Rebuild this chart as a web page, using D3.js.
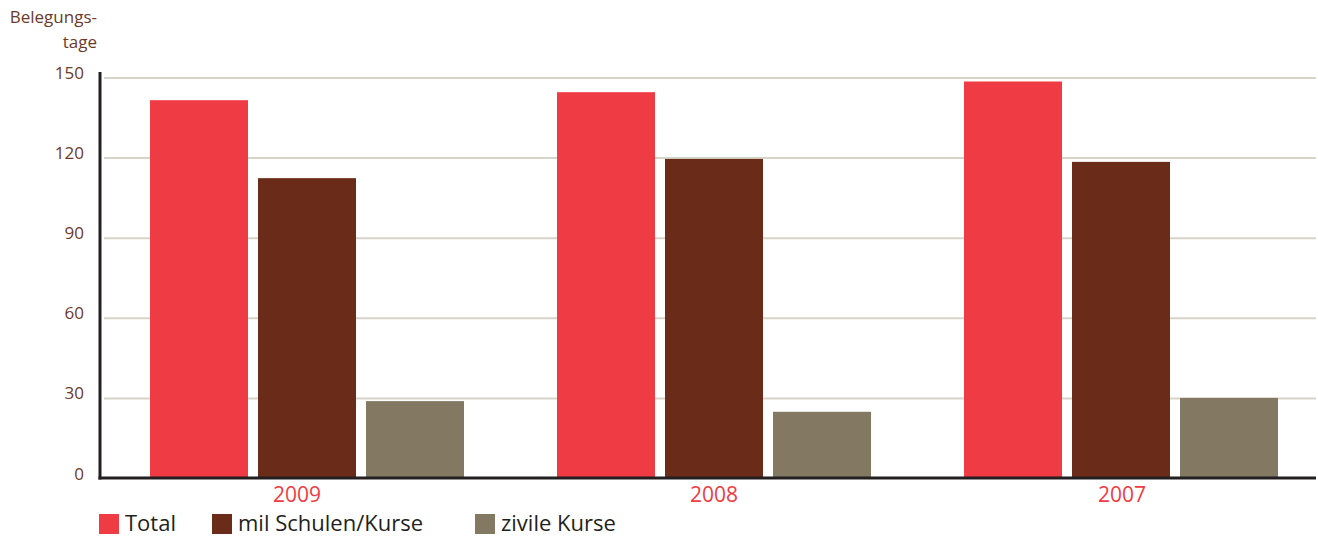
<!DOCTYPE html>
<html>
  <head>
    <script type="text/javascript" src="https://cdn.jsdelivr.net/npm/d3@7"></script>
    <style type="text/css">

html, body {
  margin: 0;
  background: #fff;
}

svg {
  display: block;
  font-family: "Open Sans", "Noto Sans", sans-serif;
}

    </style>
  </head>
  <body>
    <div id="chart"></div>
    <script type="text/javascript">

var years = ["2009", "2008", "2007"];
var series = ["Total", "mil Schulen/Kurse", "zivile Kurse"];
var total = [141.5, 144.5, 148.5];
var mil = [112.3, 119.5, 118.4];
var zivil = [28.8, 24.8, 30];
var yTicks = [0, 30, 60, 90, 120, 150];
var colors = ["#ef3b43", "#6b2b19", "#837963"];

var values = [total, mil, zivil];

var svg = d3.select("#chart").append("svg")
    .attr("width", 1318)
    .attr("height", 537);

var y = d3.scaleLinear().domain([0, 150]).range([478, 77.5]);

// groups of three bars
var x0 = d3.scaleBand().domain(years).range([150, 1278]).paddingInner(93 / 407).paddingOuter(0);
var x1 = d3.scaleBand().domain(series).range([0, x0.bandwidth()]).paddingInner(10 / 108).paddingOuter(0);

// grid lines
svg.append("g")
    .attr("transform", "translate(1316,0)")
    .call(d3.axisLeft(y).tickValues(yTicks.slice(1)).tickSize(1212).tickFormat(""))
    .call(function(g) {
      g.select(".domain").remove();
      g.selectAll(".tick line").attr("stroke", "#d6d3c8").attr("stroke-width", 2);
    });

// bars
var group = svg.append("g").selectAll("g")
    .data(years)
  .enter().append("g")
    .attr("transform", function(d) { return "translate(" + x0(d) + ",0)"; });

group.selectAll("rect")
    .data(function(d, i) { return series.map(function(s, j) { return {s: s, v: values[j][i], j: j}; }); })
  .enter().append("rect")
    .attr("x", function(d) { return x1(d.s); })
    .attr("width", x1.bandwidth())
    .attr("y", function(d) { return y(d.v); })
    .attr("height", function(d) { return y(0) - y(d.v) + 1; })
    .attr("fill", function(d) { return colors[d.j]; });

// y axis labels
var yAxis = svg.append("g")
    .attr("transform", "translate(100,0)")
    .call(d3.axisLeft(y).tickValues(yTicks).tickSize(0).tickPadding(16));
yAxis.select(".domain").remove();
yAxis.selectAll("text")
    .attr("fill", "#6b3a2a")
    .attr("font-size", 17)
    .attr("font-family", "'Open Sans', sans-serif")
    .attr("dy", "0.06em");

// axis lines
svg.append("line")
    .attr("x1", 100).attr("x2", 100)
    .attr("y1", 72).attr("y2", 479.5)
    .attr("stroke", "#231f20").attr("stroke-width", 3);
svg.append("line")
    .attr("x1", 98.5).attr("x2", 1316)
    .attr("y1", 478).attr("y2", 478)
    .attr("stroke", "#231f20").attr("stroke-width", 3);

// axis title
svg.append("text")
    .attr("x", 97).attr("y", 23)
    .attr("text-anchor", "end")
    .attr("fill", "#6b3a2a")
    .attr("font-size", 17)
    .text("Belegungs-");
svg.append("text")
    .attr("x", 97).attr("y", 48)
    .attr("text-anchor", "end")
    .attr("fill", "#6b3a2a")
    .attr("font-size", 17)
    .text("tage");

// year labels (2009 sits a little left of its group in the original)
var labelShift = [-10, 0, 1];
svg.append("g").selectAll("text")
    .data(years)
  .enter().append("text")
    .attr("x", function(d, i) { return x0(d) + x0.bandwidth() / 2 + labelShift[i]; })
    .attr("y", 502)
    .attr("text-anchor", "middle")
    .attr("fill", "#ef3b43")
    .attr("font-size", 21)
    .text(function(d) { return d; });

// legend
var legendX = [99, 212, 475];
var legend = svg.append("g").selectAll("g")
    .data(series)
  .enter().append("g")
    .attr("transform", function(d, i) { return "translate(" + legendX[i] + ",514)"; });

legend.append("rect")
    .attr("width", 20).attr("height", 20)
    .attr("fill", function(d, i) { return colors[i]; });

legend.append("text")
    .attr("x", 26).attr("y", 17)
    .attr("fill", "#231f20")
    .attr("font-size", 22)
    .text(function(d) { return d; });

    </script>
  </body>
</html>
